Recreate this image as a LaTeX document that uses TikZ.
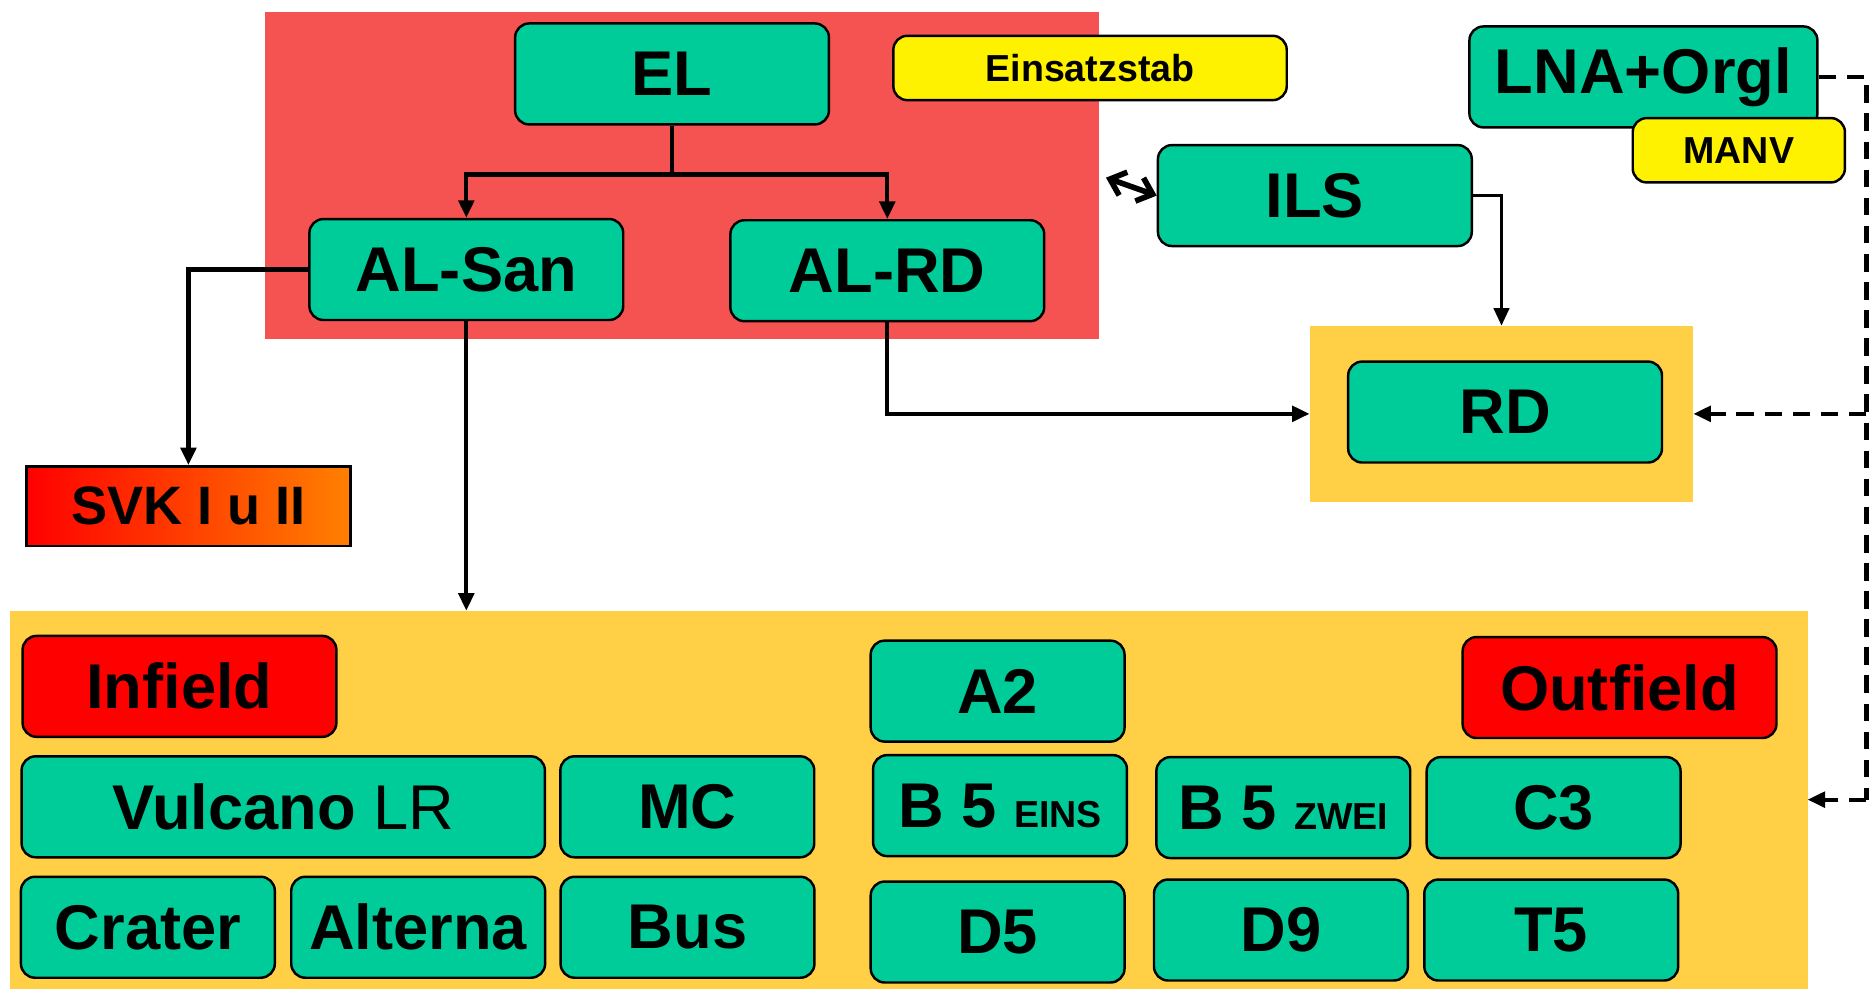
\documentclass[tikz,border=0pt]{standalone}
\usepackage{fontspec}
\setmainfont{Liberation Sans}
\usetikzlibrary{positioning,arrows,arrows.meta}

\definecolor{boxgreen}{RGB}{0,204,153}
\definecolor{stabred}{RGB}{245,82,82}
\definecolor{zoneorange}{RGB}{255,208,70}
\definecolor{svkorange}{RGB}{255,128,0}

\newcommand{\bigtxt}{\fontsize{18}{20}\selectfont\bfseries}
\newcommand{\smalltxt}{\fontsize{10.7}{12}\selectfont\bfseries}

\begin{document}
\begin{tikzpicture}[x=0.011926cm,y=-0.011926cm,>={Triangle[length=5pt,width=4.4pt]},
  box/.style={draw,line width=0.7pt,rounded corners=4pt,fill=boxgreen,font=\bigtxt,inner sep=0pt},
  bigbox/.style={box,minimum width=3.14cm,minimum height=1.01cm},
  smallbox/.style={box,minimum width=2.54cm,minimum height=1.01cm},
  redbox/.style={bigbox,fill=red},
  notebox/.style={box,fill=yellow,font=\smalltxt,minimum height=0.644cm},
  zone/.style={inner sep=0pt,outer sep=0pt},
  link/.style={->,line width=1.2pt},
  dashlink/.style={line width=1.2pt,dash pattern=on 5pt off 3pt}]
  \useasboundingbox (0,0) rectangle (1568,829);

  % areas
  \node[zone,fill=stabred,minimum width=8.348cm,minimum height=3.268cm] (stab) at (572,147) {};
  \node[zone,fill=zoneorange,minimum width=3.840cm,minimum height=1.765cm] (rdzone) at (1259,347) {};
  \node[zone,fill=zoneorange,minimum width=17.984cm,minimum height=3.780cm] (field) at (762,670.5) {};

  % command
  \node[bigbox] (el) at (563.5,62) {EL};
  \node[notebox,minimum width=3.936cm] (stabnote) at (914,57) {Einsatzstab};
  \node[bigbox] (alsan) at (391,226) {AL-San};
  \node[bigbox] (alrd) at (744,227) {AL-RD};
  \node[bigbox] (ils) at (1102.5,164) {ILS};
  \node[bigbox,minimum width=3.482cm] (lna) at (1378,64.5) {LNA+Orgl};
  \node[notebox,minimum width=2.123cm] (manv) at (1458,126) {MANV};
  \node[bigbox] (rd) at (1262,345.5) {RD};
  \node[draw,line width=0.7pt,left color=red,right color=svkorange,
        minimum width=3.244cm,minimum height=0.799cm,
        font=\fontsize{15.4}{17}\selectfont\bfseries] (svk) at (158,424.5) {SVK I u II};

  % infield
  \node[redbox] (infield) at (150.5,575.5) {Infield};
  \node[box,minimum width=5.236cm,minimum height=1.01cm] (vulcano) at (237.5,676.5) {Vulcano \textmd{LR}};
  \node[smallbox] (mc) [right=0.13cm of vulcano] {MC};
  \node[smallbox] (crater) at (124,777.5) {Crater};
  \node[smallbox] (alterna) [right=0.14cm of crater] {Alterna};
  \node[smallbox] (bus) [right=0.13cm of alterna] {Bus};

  % outfield
  \node[smallbox] (a2) at (836.5,579.5) {A2};
  \node[redbox] (outfield) at (1358,576.5) {Outfield};
  \node[smallbox] (b5eins) at (838.5,675.5) {B 5 {\smalltxt EINS}};
  \node[smallbox] (b5zwei) [right=0.27cm of b5eins,yshift=-0.02cm] {B 5 {\smalltxt ZWEI}};
  \node[smallbox] (c3) [right=0.14cm of b5zwei] {C3};
  \node[smallbox] (d5) at (836.5,781.5) {D5};
  \node[smallbox] (d9) [right=0.27cm of d5,yshift=0.02cm] {D9};
  \node[smallbox] (t5) [right=0.14cm of d9] {T5};

  \coordinate (busline) at (1565,0);

  \draw[link] (el.south) -- ++(0,41) -| (alsan.north);
  \draw[link] (el.south) -- ++(0,41) -| (alrd.north);
  \draw[link] (alsan.west) -| (svk.north);
  \draw[link] (alsan.south) -- (alsan.south |- field.north);
  \draw[link] (alrd.south) |- (rdzone.west);
  \draw[{Straight Barb[length=4pt,width=7pt]}-{Straight Barb[length=4pt,width=7pt]},
        line width=1.6pt,shorten <=2pt] (stab.east) -- (ils.west);
  \draw[->,line width=0.9pt] (ils.east) -| (rdzone.north);
  \draw[dashlink] (lna.east) -| (busline |- field.east);
  \draw[dashlink,->] (busline |- rdzone.east) -- (rdzone.east);
  \draw[dashlink,->] (busline |- field.east) -- (field.east);
\end{tikzpicture}
\end{document}
